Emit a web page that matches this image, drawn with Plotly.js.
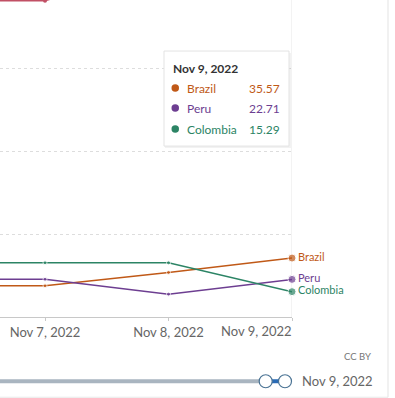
<!DOCTYPE html>
<html>
<head>
<meta charset="utf-8">
<script src="https://cdn.plot.ly/plotly-3.0.1.min.js"></script>
<style>
html,body{margin:0;padding:0;background:#fff;}
#chart{width:395px;height:398px;}
</style>
</head>
<body>
<div id="chart"></div>
<script>
// ---- data ----
const dates = ['2022-11-06', '2022-11-07', '2022-11-08', '2022-11-09'];
const dateLabels = ['Nov 6, 2022', 'Nov 7, 2022', 'Nov 8, 2022', 'Nov 9, 2022'];
const seriesNames = ['Brazil', 'Peru', 'Colombia'];
const brazil = [18.8, 18.8, 26.9, 35.57];
const peru = [22.8, 22.8, 13.8, 22.71];
const colombia = [32.7, 32.7, 32.7, 15.29];
const offscreenDates = ['2022-11-06', '2022-11-07', '2022-11-08'];
const offscreen = [191, 190.8, 215];
const colors = {Brazil: '#c05917', Peru: '#6d3e91', Colombia: '#2c8465', other: '#c15065'};
const yTicks = [0, 50, 100, 150];

// ---- geometry helpers (pixel -> paper) ----
const W = 395, H = 398, L = 0, T = 0, PW = 292, PH = 316.8;
const px = x => (x - L) / PW;
const py = y => 1 - (y - T) / PH;
const FONT = 'Lato, "Open Sans", sans-serif';

const series = {Brazil: brazil, Peru: peru, Colombia: colombia};
const traces = [];
traces.push({
  x: offscreenDates, y: offscreen, type: 'scatter', mode: 'lines+markers',
  line: {color: colors.other, width: 1.5}, marker: {size: 4, color: colors.other},
  hoverinfo: 'skip', showlegend: false
});
seriesNames.forEach(name => {
  const vals = series[name];
  traces.push({
    x: dates, y: vals, type: 'scatter', mode: 'lines+markers+text',
    name: name,
    line: {color: colors[name], width: 1.5},
    marker: {size: vals.map((v, i) => i === vals.length - 1 ? 8 : 4), color: colors[name]},
    text: vals.map((v, i) => i === vals.length - 1 ? name : ''),
    textposition: 'middle right',
    textfont: {family: FONT, size: 11, color: colors[name]},
    cliponaxis: false, hoverinfo: 'skip', showlegend: false
  });
});

const last = dates.length - 1;
const shapes = [
  // hover guide line
  {type: 'line', xref: 'x', yref: 'paper', x0: dates[last], x1: dates[last], y0: 0, y1: 1,
   line: {color: '#e6e6e6', width: 1}, layer: 'below'},
  // card borders
  {type: 'line', xref: 'paper', yref: 'paper', x0: px(388), x1: px(388), y0: py(0), y1: py(397),
   line: {color: '#e8e8e8', width: 1.2}},
  {type: 'line', xref: 'paper', yref: 'paper', x0: px(0), x1: px(388), y0: py(397), y1: py(397),
   line: {color: '#e8e8e8', width: 1.2}},
  // tooltip shadow + box
  {type: 'rect', xref: 'paper', yref: 'paper', x0: px(165), x1: px(291), y0: py(53), y1: py(148),
   fillcolor: 'rgba(0,0,0,0.05)', line: {width: 0}},
  {type: 'rect', xref: 'paper', yref: 'paper', x0: px(164), x1: px(289), y0: py(51), y1: py(146),
   fillcolor: '#ffffff', line: {color: '#e3e3e3', width: 1}},
  // timeline
  {type: 'line', xref: 'paper', yref: 'paper', x0: px(-2), x1: px(262), y0: py(381), y1: py(381),
   line: {color: '#a9b5c0', width: 4}},
  {type: 'line', xref: 'paper', yref: 'paper', x0: px(268), x1: px(283), y0: py(381), y1: py(381),
   line: {color: '#2a6bb5', width: 4}},
];
// handles
[265.7, 285].forEach(cx => {
  shapes.push({type: 'circle', xref: 'paper', yref: 'paper',
    x0: px(cx - 6.5), x1: px(cx + 6.5), y0: py(381 - 6.5), y1: py(381 + 6.5),
    fillcolor: '#ffffff', line: {color: '#4a7394', width: 1.2}});
});
// tooltip dots
const rowY = [88, 108, 129];
seriesNames.forEach((name, i) => {
  shapes.push({type: 'circle', xref: 'paper', yref: 'paper',
    x0: px(171.5), x1: px(179), y0: py(rowY[i] - 3.75), y1: py(rowY[i] + 3.75),
    fillcolor: colors[name], line: {width: 0}});
});

const annotations = [
  {xref: 'paper', yref: 'paper', x: px(171), y: py(68), xanchor: 'left', yanchor: 'middle',
   text: '<b>' + dateLabels[last] + '</b>', showarrow: false,
   font: {family: FONT, size: 12, color: '#333'}},
  {xref: 'paper', yref: 'paper', x: px(373), y: py(356), xanchor: 'right', yanchor: 'middle',
   text: 'CC BY', showarrow: false, font: {family: FONT, size: 9.5, color: '#777'}},
  {xref: 'paper', yref: 'paper', x: px(300), y: py(381), xanchor: 'left', yanchor: 'middle',
   text: dateLabels[last], showarrow: false, font: {family: FONT, size: 13, color: '#666'}},
  // last x tick label, right-aligned to the plot edge
  {xref: 'x', yref: 'paper', x: dates[last], y: py(331), xanchor: 'right', yanchor: 'middle',
   xshift: 2, text: dateLabels[last], showarrow: false, font: {family: FONT, size: 13, color: '#666'}},
];
seriesNames.forEach((name, i) => {
  annotations.push({xref: 'paper', yref: 'paper', x: px(185), y: py(rowY[i]), xanchor: 'left', yanchor: 'middle',
    text: name, showarrow: false, font: {family: FONT, size: 12, color: colors[name]}});
  annotations.push({xref: 'paper', yref: 'paper', x: px(282), y: py(rowY[i]), xanchor: 'right', yanchor: 'middle',
    text: series[name][last].toFixed(2), showarrow: false, font: {family: FONT, size: 12, color: colors[name]}});
});

const layout = {
  width: W, height: H,
  margin: {l: L, t: T, r: W - L - PW, b: H - T - PH, pad: 0},
  paper_bgcolor: '#fff', plot_bgcolor: '#fff',
  showlegend: false,
  xaxis: {
    type: 'date',
    range: ['2022-11-06 15:15', dates[last]],
    tickvals: dates.slice(1),
    ticktext: dateLabels.slice(1).map((t, i, a) => i === a.length - 1 ? ' ' : t),
    showgrid: false, zeroline: false,
    showline: true, linecolor: '#c8c8c8', linewidth: 1,
    ticks: 'outside', ticklen: 3, tickcolor: '#c8c8c8',
    tickfont: {family: FONT, size: 13, color: '#666'},
    fixedrange: true
  },
  yaxis: {
    range: [0, PH / 1.656],
    tickvals: yTicks,
    showticklabels: false,
    showgrid: true, gridcolor: '#dddddd', griddash: '3px,3px', gridwidth: 1,
    zeroline: false, showline: false, fixedrange: true
  },
  shapes: shapes,
  annotations: annotations,
  font: {family: FONT}
};

Plotly.newPlot('chart', traces, layout, {displayModeBar: false, staticPlot: true});
</script>
</body>
</html>
